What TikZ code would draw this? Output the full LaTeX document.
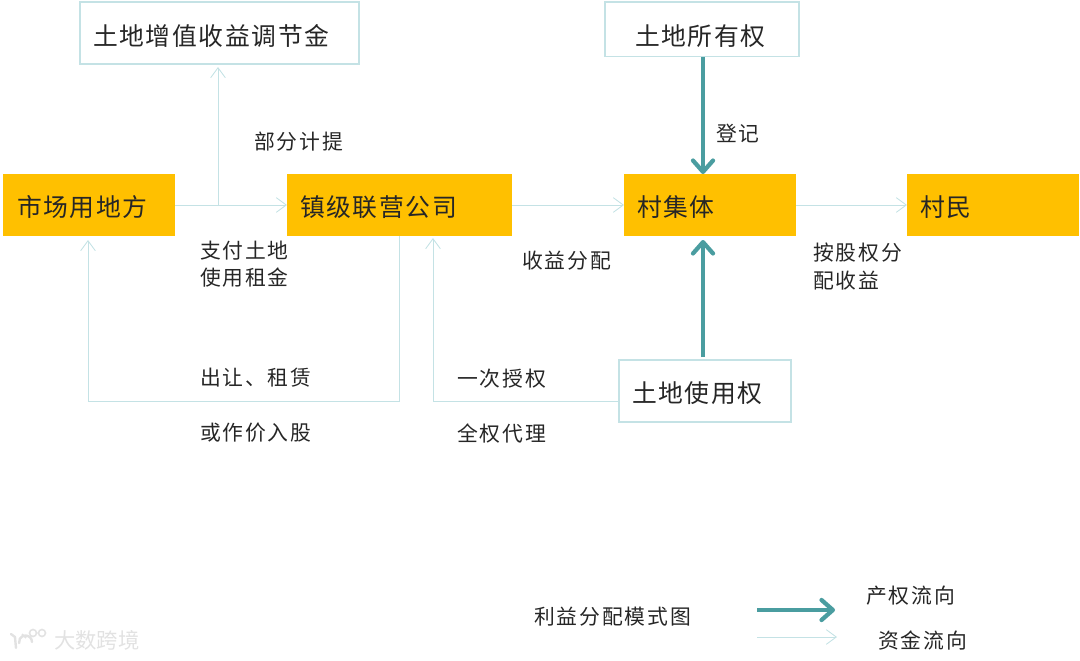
\documentclass[tikz,border=0pt]{standalone}
\usepackage{fontspec}
\setmainfont{Noto Sans CJK SC}
\newfontfamily\nodefont[LetterSpace=6.6]{Noto Sans CJK SC}
\newfontfamily\labelfont[LetterSpace=9]{Noto Sans CJK SC}
\usetikzlibrary{arrows.meta}
\definecolor{boxgold}{HTML}{FFC000}
\definecolor{paleline}{HTML}{C4E2E5}
\definecolor{tealline}{HTML}{4A9DA0}
\definecolor{inktext}{HTML}{262626}
\definecolor{wmark}{HTML}{E2E2E2}
\tikzset{
  x=0.75pt,y=-0.75pt,
  basebox/.style={minimum width=#1*0.75pt,inner sep=0pt,outer sep=0pt,anchor=north west,font=\nodefont\fontsize{18.6}{20}\selectfont,text=inktext},
  goldbox/.style={basebox=#1,fill=boxgold,minimum height=46.5pt},
  paper/.style={basebox=#1,fill=white,draw=paleline,line width=0.9pt},
  lab/.style={anchor=west,inner sep=0pt,outer sep=0pt,xshift=-0.75pt,font=\labelfont\fontsize{15.6}{15}\selectfont,text=inktext,align=left},
  inl/.style={anchor=west,inner sep=0pt,outer sep=0pt,xshift=-0.75pt,font=\nodefont\fontsize{18.6}{20}\selectfont,text=inktext},
  fund/.style={draw=paleline,line width=0.65pt,-{Straight Barb[length=7.5pt,width=11pt,line width=0.65pt]}},
  title/.style={draw=tealline,line width=3.4pt,-{Straight Barb[length=8.5pt,width=15pt,line width=3.2pt,round]}},
}
\begin{document}
\begin{tikzpicture}
\useasboundingbox (0,0) rectangle (1080,660);
% boxes
\node[goldbox=172] (market) at (3,174) {};
\node[goldbox=225] (company) at (287,174) {};
\node[goldbox=172] (village) at (624,174) {};
\node[goldbox=172] (villager) at (907,174) {};
\node[paper=279,minimum height=46.5pt] (fund) at (80,2) {};
\node[paper=194,minimum height=41pt] (own) at (605,2) {};
\node[paper=172,minimum height=46.5pt] (use) at (619,360) {};
% box texts
\node[inl] (t1) at (18,207) {市场用地方};
\node[inl] (t2) at (301,207) {镇级联营公司};
\node[inl] (t3) at (638,207) {村集体};
\node[inl] (t4) at (921,207) {村民};
\node[inl] (t5) at (94,36) {土地增值收益调节金};
\node[inl] (t6) at (636,36) {土地所有权};
\node[inl] (t7) at (633,393) {土地使用权};
% connectors
\coordinate (branch) at (218,205);
\coordinate (dropa) at (399,401);
\coordinate (dropb) at (88,401);
\coordinate (usea) at (433,401);
\draw[fund] (market.east) -- (company.west);
\draw[fund] (branch) -- (218,67);
\draw[fund] (company.east) -- (village.west);
\draw[fund] (village.east) -- (villager.west);
\draw[fund] (company.south -| dropa) -- (dropa) -- (dropb) -- (88,240);
\draw[fund] (use.west |- usea) -- (usea) -- (433,238);
\draw[title] (703,57) -- (703,174);
\draw[title] (703,357) -- (703,240);
% labels
\node[lab] (l1) at (255,142) {部分计提};
\node[lab] (l2) at (201,251) {支付土地};
\node[lab] (l3) at (201,278) {使用租金};
\node[lab] (l4) at (523,261) {收益分配};
\node[lab] (l5) at (814,253) {按股权分};
\node[lab] (l6) at (814,281) {配收益};
\node[lab] (l7) at (717,133) {登记};
\node[lab] (l8) at (201,378) {出让、租赁};
\node[lab] (l9) at (201,433) {或作价入股};
\node[lab] (l10) at (458,379) {一次授权};
\node[lab] (l11) at (458,434) {全权代理};
\node[lab] (l12) at (535,617) {利益分配模式图};
\node[lab] (l13) at (867,596) {产权流向};
\node[lab] (l14) at (879,641) {资金流向};
% legend
\coordinate (k1a) at (757,610);
\coordinate (k1b) at (835,610);
\coordinate (k2a) at (757,637);
\coordinate (k2b) at (837,637);
\draw[title] (k1a) -- (k1b);
\draw[fund] (k2a) -- (k2b);
% watermark
\node[anchor=west,inner sep=0pt,text=wmark,font=\fontsize{16}{16}\selectfont] (wm) at (54,640) {大数跨境};
\draw[wmark,line width=1.8pt,line cap=round] (11,634) -- (15,637) -- (16,648);
\draw[wmark,line width=1.8pt,line cap=round] (32,642) arc[start angle=0,end angle=-190,radius=6.5];
\draw[wmark,line width=1.2pt] (22,634) -- (26,638);
\draw[wmark,line width=1.2pt] (33,633) circle[radius=3.5] (42,633) circle[radius=3.5];
\end{tikzpicture}
\end{document}
